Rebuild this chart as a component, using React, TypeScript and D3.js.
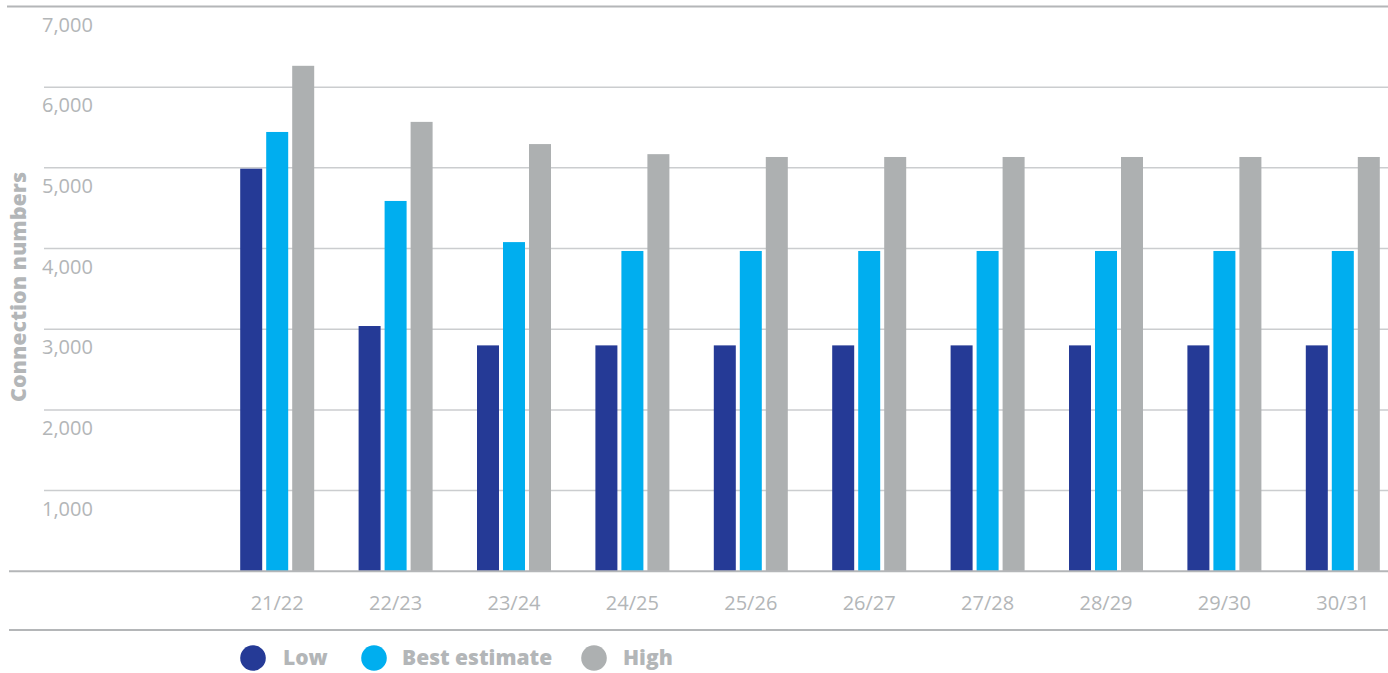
import React from "react";
import * as d3 from "d3";

const categories = ["21/22", "22/23", "23/24", "24/25", "25/26", "26/27", "27/28", "28/29", "29/30", "30/31"];
const seriesNames = ["Low", "Best estimate", "High"];
const lowValues = [4990, 3040, 2800, 2800, 2800, 2800, 2800, 2800, 2800, 2800];
const bestValues = [5445, 4590, 4080, 3970, 3970, 3970, 3970, 3970, 3970, 3970];
const highValues = [6265, 5570, 5295, 5170, 5135, 5135, 5135, 5135, 5135, 5135];
const yTicks = [1000, 2000, 3000, 4000, 5000, 6000, 7000];
const colors = ["#253a96", "#00aeef", "#adb0b1"];

const W = 1388;
const H = 673;

export default function App() {
  const y = d3.scaleLinear().domain([0, 7000]).range([571.3, 6.5]);
  const x = d3.scaleBand<string>().domain(categories).range([218, 1402]).padding(0);
  const inner = d3.scaleBand<string>().domain(seriesNames).range([0, 74]).paddingInner(4 / 26);
  const groupOffset = (x.bandwidth() - 74) / 2;
  const series = [lowValues, bestValues, highValues];
  const textColor = "#b3b6b8";
  const font = "'Open Sans', 'Noto Sans', sans-serif";

  const legendItems = [
    { name: "Low", cx: 253, tx: 283 },
    { name: "Best estimate", cx: 374, tx: 402 },
    { name: "High", cx: 594, tx: 623 },
  ];

  return (
    <svg width={W} height={H} style={{ position: "absolute", left: 0, top: 0, background: "#fff" }} fontFamily={font}>
      <line x1={7} x2={W} y1={y(7000)} y2={y(7000)} stroke="#b4b6b8" strokeWidth={2} />
      {yTicks.filter((t) => t < 7000).map((t) => (
        <line key={t} x1={44} x2={W} y1={y(t)} y2={y(t)} stroke="#cbcdcf" strokeWidth={1.5} />
      ))}
      {yTicks.map((t) => (
        <text key={t} x={42} y={y(t) + 25} fontSize={20} fill={textColor}>
          {d3.format(",")(t)}
        </text>
      ))}
      <text
        transform={`translate(26,287) rotate(-90)`}
        textAnchor="middle"
        fontSize={21}
        fontWeight={800}
        fill={textColor}
        textLength={230}
        lengthAdjust="spacingAndGlyphs"
      >
        Connection numbers
      </text>
      {categories.map((c, i) => (
        <g key={c} transform={`translate(${(x(c) as number) + groupOffset},0)`}>
          {seriesNames.map((s, j) => (
            <rect
              key={s}
              x={inner(s)}
              y={y(series[j][i])}
              width={inner.bandwidth()}
              height={y(0) - y(series[j][i])}
              fill={colors[j]}
            />
          ))}
        </g>
      ))}
      <line x1={9} x2={W} y1={y(0)} y2={y(0)} stroke="#b4b6b8" strokeWidth={2} />
      {categories.map((c) => (
        <text
          key={c}
          x={(x(c) as number) + x.bandwidth() / 2}
          y={610}
          textAnchor="middle"
          fontSize={20}
          fill={textColor}
        >
          {c}
        </text>
      ))}
      <line x1={9} x2={W} y1={630} y2={630} stroke="#b4b6b8" strokeWidth={2} />
      {legendItems.map((l, i) => (
        <g key={l.name}>
          <circle cx={l.cx} cy={658} r={12.8} fill={colors[i]} />
          <text x={l.tx} y={665} fontSize={21} fontWeight={800} fill={textColor}>
            {l.name}
          </text>
        </g>
      ))}
    </svg>
  );
}
